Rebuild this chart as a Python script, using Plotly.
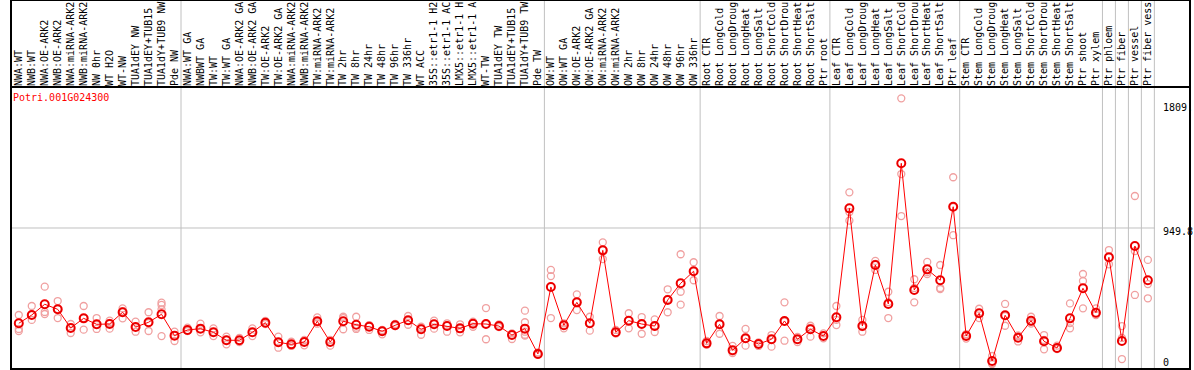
import plotly.graph_objects as go

categories = [
    "NWA:WT", "NWB:WT", "NWA:OE-ARK2", "NWB:OE-ARK2", "NWA:miRNA-ARK2", "NWB:miRNA-ARK2",
    "NW 0hr", "WT H2O", "WT-NW", "TUA1dEY NW", "TUA1dEY+TUB15", "TUA1dY+TUB9 NW", "Pde NW",
    "NWA:WT GA", "NWBWT GA", "TW:WT", "TW:WT GA", "NWA:OE-ARK2 GA", "NWB:OE-ARK2 GA",
    "TW:OE-ARK2", "TW:OE-ARK2 GA", "NWA:miRNA-ARK2", "NWB:miRNA-ARK2", "TW:miRNA-ARK2",
    "TW:miRNA-ARK2", "TW 2hr", "TW 8hr", "TW 24hr", "TW 48hr", "TW 96hr", "TW 336hr",
    "WT ACC", "35S::etr1-1 H2", "35S::etr1-1 AC", "LMX5::etr1-1 H", "LMX5::etr1-1 A",
    "WT-TW", "TUA1dEY TW", "TUA1dEY+TUB15", "TUA1dY+TUB9 TW", "Pde TW",
    "OW:WT", "OW:WT GA", "OW:OE-ARK2", "OW:OE-ARK2 GA", "OW:miRNA-ARK2", "OW:miRNA-ARK2",
    "OW 2hr", "OW 8hr", "OW 24hr", "OW 48hr", "OW 96hr", "OW 336hr",
    "Root CTR", "Root LongCold", "Root LongDroug", "Root LongHeat", "Root LongSalt",
    "Root ShortCold", "Root ShortDrou", "Root ShortHeat", "Root ShortSalt", "Ptr root",
    "Leaf CTR", "Leaf LongCold", "Leaf LongDroug", "Leaf LongHeat", "Leaf LongSalt",
    "Leaf ShortCold", "Leaf ShortDrou", "Leaf ShortHeat", "Leaf ShortSalt", "Ptr leaf",
    "Stem CTR", "Stem LongCold", "Stem LongDroug", "Stem LongHeat", "Stem LongSalt",
    "Stem ShortCold", "Stem ShortDrou", "Stem ShortHeat", "Stem ShortSalt", "Ptr shoot",
    "Ptr xylem", "Ptr phloem", "Ptr fiber", "Ptr vessel", "Ptr fiber vess",
]

means = [
    294, 351, 425, 390, 262, 328, 287, 289, 370, 268, 301, 356, 209,
    248, 257, 232, 177, 177, 232, 298, 163, 149, 165, 308, 165, 308, 284, 270, 239, 280,
    315, 253, 287, 275, 259, 291, 289, 275, 213, 257, 83,
    544, 280, 438, 294, 796, 232, 312, 289, 275, 454, 569, 652,
    156, 287, 108, 191, 151, 184, 310, 184, 253, 206,
    335, 1085, 275, 695, 427, 1395, 523, 665, 590, 1096,
    206, 363, 34, 349, 195, 312, 170, 124, 328, 535, 367,
    748, 172, 826, 590,
]

replicates = [
    [351, 255, 241], [413, 317, 351], [546, 372, 358], [447, 330, 392], [289, 227, 262],
    [413, 250, 330], [330, 255, 284], [312, 257, 296], [397, 328, 378], [305, 236, 268],
    [370, 241, 296], [436, 420, 390, 206], [236, 172, 213],
    [264, 241, 244], [291, 232, 255], [259, 206, 234], [202, 149, 179], [193, 165, 175],
    [259, 206, 230], [310, 289, 296], [202, 126, 162], [167, 138, 148], [142, 179, 167],
    [335, 291, 303], [140, 179, 165], [339, 253, 330], [339, 264, 255], [282, 248, 279],
    [218, 248, 241], [289, 275, 279], [344, 284, 313], [270, 215, 262], [312, 257, 292],
    [294, 236, 279], [287, 232, 255], [305, 270, 296], [399, 184, 289], [286, 268, 272],
    [225, 186, 213], [381, 301, 236, 209, 215], [93, 76, 83],
    [661, 619, 330], [294, 259, 280], [493, 385, 440], [339, 243, 296], [851, 736, 798],
    [248, 224, 230], [363, 259, 313], [337, 222, 289], [321, 234, 272], [528, 370, 461],
    [769, 511, 422], [714, 590, 650],
    [172, 145, 155], [344, 222, 289], [138, 89, 100], [255, 140, 189], [162, 138, 151],
    [213, 133, 184], [438, 174, 306], [200, 165, 182], [277, 202, 262], [225, 191, 206],
    [413, 282, 317], [1195, 1000, 1060], [317, 236, 268], [723, 661, 702], [511, 330, 440],
    [1842, 1321, 1032], [597, 438, 537], [716, 633, 647], [695, 530, 537], [1299, 900, 1094],
    [189, 220, 210], [394, 330, 365], [69, 20, 13], [427, 277, 344], [169, 206, 210],
    [339, 292, 303], [213, 115, 179], [140, 120, 117], [431, 259, 295], [633, 585, 397],
    [397, 351, 354], [798, 700, 747], [275, 48, 193], [1170, 489, 791], [730, 564, 466],
]

gene_title = "Potri.001G024300"
y_ticks = [0, 949.8, 1809]
y_tick_text = ["0", "949.8", "1809."]
separators_after = [12, 40, 52, 62, 72, 83, 84, 85, 86, 87]

FONT = "DejaVu Sans Mono"
W, H = 1194, 370
ML, MR, MT, MB = 11, 39, 87, 1
PW = W - ML - MR
PH = H - MT - MB

xs = list(range(len(categories)))
rep_x = [i for i, r in enumerate(replicates) for _ in r]
rep_y = [v for r in replicates for v in r]

fig = go.Figure()
fig.add_trace(go.Scatter(
    x=rep_x, y=rep_y, mode="markers",
    marker=dict(symbol="circle-open", size=7, color="#f0a0a0", line=dict(width=1.3)),
    hoverinfo="skip", showlegend=False,
))
fig.add_trace(go.Scatter(
    x=xs, y=means, mode="lines+markers",
    line=dict(color="#ff0000", width=1),
    marker=dict(symbol="circle-open", size=8, color="#ff0000", line=dict(width=2)),
    showlegend=False,
))
fig.add_trace(go.Scatter(
    x=xs, y=means, mode="markers",
    marker=dict(symbol="circle-open", size=8, color="rgba(90,0,0,0.35)", line=dict(width=0.6)),
    hoverinfo="skip", showlegend=False,
))

top_paper = 1 + MT / PH
right_paper = (1190 - ML) / PW

shapes = []
for s in separators_after:
    shapes.append(dict(type="line", xref="x", yref="paper", x0=s + 0.5, x1=s + 0.5,
                       y0=0, y1=top_paper, line=dict(color="#c0c0c0", width=1), layer="below"))
shapes.append(dict(type="line", xref="paper", yref="y", x0=0, x1=1, y0=949.8, y1=949.8,
                   line=dict(color="#c0c0c0", width=1), layer="below"))
shapes.append(dict(type="line", xref="paper", yref="paper", x0=0, x1=right_paper, y0=1, y1=1,
                   line=dict(color="black", width=2)))
shapes.append(dict(type="rect", xref="paper", yref="paper", x0=0, x1=right_paper, y0=0, y1=top_paper,
                   line=dict(color="black", width=2)))

annotations = [dict(xref="paper", yref="paper", x=0, y=1, xanchor="left", yanchor="top",
                    xshift=0, yshift=-3, text=gene_title, showarrow=False,
                    font=dict(family=FONT, size=10, color="#ff0000"))]
shifts = [4, -4, -4]
for v, t, sh in zip(y_ticks, y_tick_text, shifts):
    annotations.append(dict(xref="paper", yref="y", x=1 + 6 / PW, y=v, xanchor="left",
                            yanchor="middle", yshift=sh, text=t, showarrow=False,
                            font=dict(family=FONT, size=10, color="black")))

fig.update_layout(
    width=W, height=H, margin=dict(l=ML, r=MR, t=MT, b=MB, pad=0),
    template="none", paper_bgcolor="white", plot_bgcolor="white",
    shapes=shapes, annotations=annotations,
    xaxis=dict(range=[-0.6, 87.55], side="top", tickmode="array", tickvals=xs,
               ticktext=categories, tickangle=-90, ticks="", showgrid=False,
               zeroline=False, showline=False, automargin=False,
               tickfont=dict(family=FONT, size=10, color="black")),
    yaxis=dict(range=[-20.6, 1920], side="right", showticklabels=False, showgrid=False,
               zeroline=False, showline=False, ticks="", automargin=False),
)

fig.write_html("out.html", config={"displayModeBar": False},
               post_script="document.body.style.margin='0px';document.body.style.padding='0px';")
